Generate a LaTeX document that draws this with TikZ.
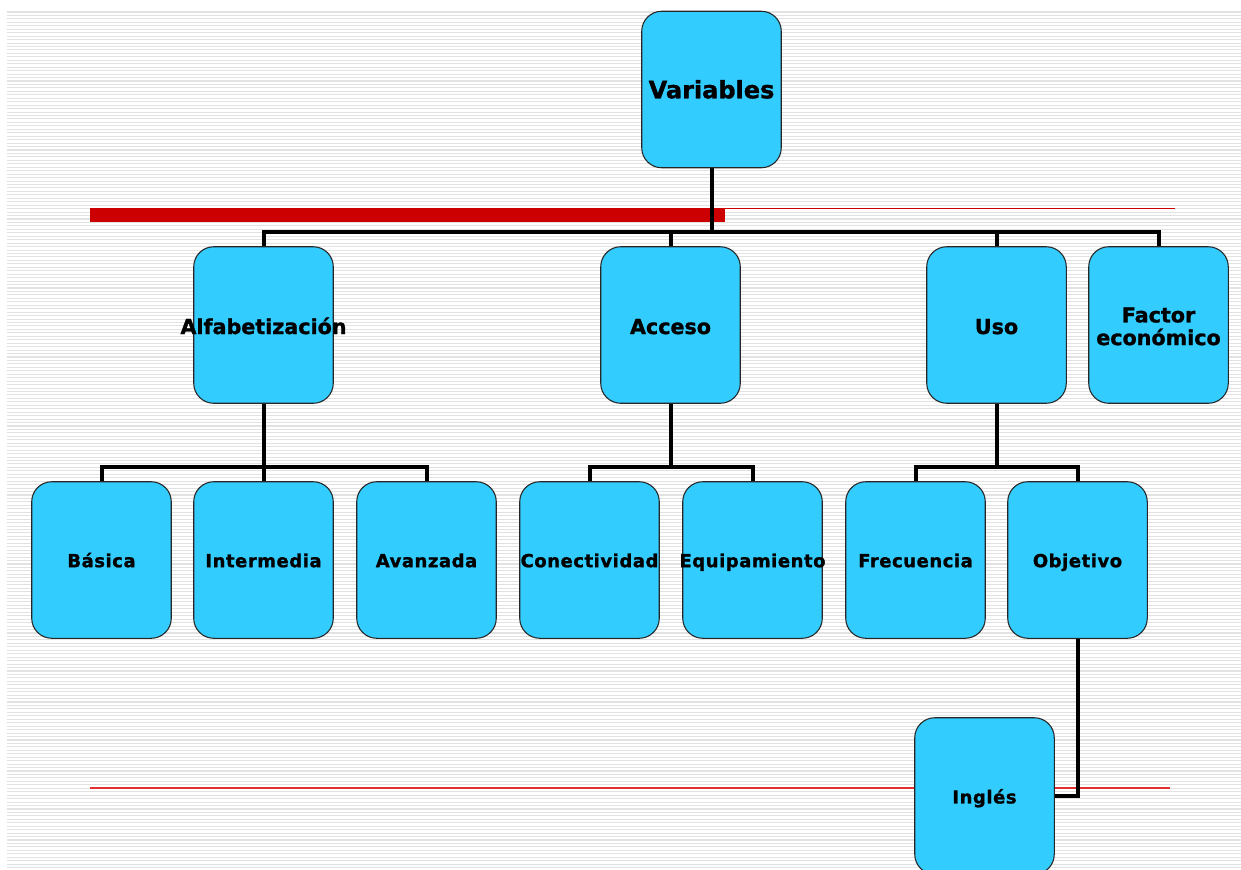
\documentclass[tikz,border=0pt]{standalone}
\usepackage{fontspec}
\setmainfont{DejaVu Sans}[BoldFeatures={FakeBold=1.2}]
\newfontfamily\spacedfont{DejaVu Sans}[LetterSpace=3,BoldFeatures={FakeBold=1.2}]
\definecolor{boxblue}{HTML}{33CCFF}
\definecolor{barred}{HTML}{CC0000}
\definecolor{thinred}{HTML}{E03030}
\definecolor{stripegray}{HTML}{E2E2E2}
\tikzset{
  orgbox/.style={minimum width=104.25pt, minimum height=117pt, inner sep=0pt, anchor=center},
  boxshape/.style={draw=black!85, line width=0.8pt, fill=boxblue, rounded corners=15pt},
  toplabel/.style={font=\bfseries\fontsize{18}{21}\selectfont, anchor=base},
  midlabel/.style={font=\bfseries\fontsize{15.5}{17}\selectfont, align=center},
  lowlabel/.style={font=\spacedfont\bfseries\fontsize{13.5}{15}\selectfont, anchor=base},
  conn/.style={line width=3pt, black, line join=miter, line cap=rect},
  stripe/.style={stripegray, line width=0.8pt}
}
\begin{document}
\begin{tikzpicture}[x=0.75pt,y=-0.75pt]
\useasboundingbox (0,0) rectangle (1241,869);
\clip (0,0) rectangle (1241,869);
\fill[white] (0,0) rectangle (1241,869);
% background stripes
\foreach \i in {0,...,248}{
  \draw[stripe] (7,{12+3.45*\i}) -- (1241,{12+3.45*\i});
}
% red decorations
\fill[barred] (90,208) rectangle (725,222);
\draw[barred, line width=0.8pt] (725,208.5) -- (1175,208.5);
\draw[thinred, line width=0.8pt] (90,788) -- (1170,788);
% node frames (invisible, for anchors)
\node[orgbox] (var) at (711.5,89.5) {};
\node[orgbox] (alf) at (263.5,325) {};
\node[orgbox] (acc) at (670.5,325) {};
\node[orgbox] (uso) at (996.5,325) {};
\node[orgbox] (fac) at (1158.5,325) {};
\node[orgbox] (bas) at (101.5,560) {};
\node[orgbox] (int) at (263.5,560) {};
\node[orgbox] (ava) at (426.5,560) {};
\node[orgbox] (con) at (589.5,560) {};
\node[orgbox] (equ) at (752.5,560) {};
\node[orgbox] (fre) at (915.5,560) {};
\node[orgbox] (obj) at (1077.5,560) {};
\node[orgbox] (ing) at (984.5,796) {};
% connectors
\coordinate (bus1) at (711.5,232);
\coordinate (bus2) at (263.5,467);
\coordinate (bus3) at (670.5,467);
\coordinate (bus4) at (996.5,467);
\draw[conn] (var.south) -- (bus1);
\draw[conn] (alf.north) |- (bus1) -| (fac.north);
\draw[conn] (acc.north) -- (acc.north |- bus1);
\draw[conn] (uso.north) -- (uso.north |- bus1);
\draw[conn] (alf.south) -- (bus2);
\draw[conn] (bas.north) |- (bus2) -| (ava.north);
\draw[conn] (int.north) -- (bus2);
\draw[conn] (acc.south) -- (bus3);
\draw[conn] (con.north) |- (bus3) -| (equ.north);
\draw[conn] (uso.south) -- (bus4);
\draw[conn] (fre.north) |- (bus4) -| (obj.north);
\draw[conn] (obj.south) |- (ing.east);
% boxes
\foreach \n in {var,alf,acc,uso,fac,bas,int,ava,con,equ,fre,obj,ing}{
  \draw[boxshape] (\n.south west) rectangle (\n.north east);
}
% labels
\node[toplabel] (tvar) at ([yshift=-6.6pt]var.center) {Variables};
\node[midlabel, anchor=base] (talf) at ([yshift=-6.75pt]alf.center) {Alfabetización};
\node[midlabel, anchor=base] (tacc) at ([yshift=-6.75pt]acc.center) {Acceso};
\node[midlabel, anchor=base] (tuso) at ([yshift=-6.75pt]uso.center) {Uso};
\node[midlabel] (tfac) at ([yshift=-1pt]fac.center) {Factor\\económico};
\node[lowlabel] (tbas) at ([yshift=-5.4pt]bas.center) {Básica};
\node[lowlabel] (tint) at ([yshift=-5.4pt]int.center) {Intermedia};
\node[lowlabel] (tava) at ([yshift=-5.4pt]ava.center) {Avanzada};
\node[lowlabel] (tcon) at ([yshift=-5.4pt]con.center) {Conectividad};
\node[lowlabel] (tequ) at ([yshift=-5.4pt]equ.center) {Equipamiento};
\node[lowlabel] (tfre) at ([yshift=-5.4pt]fre.center) {Frecuencia};
\node[lowlabel] (tobj) at ([yshift=-5.4pt]obj.center) {Objetivo};
\node[lowlabel] (ting) at ([yshift=-5.6pt]ing.center) {Inglés};
\end{tikzpicture}
\end{document}
